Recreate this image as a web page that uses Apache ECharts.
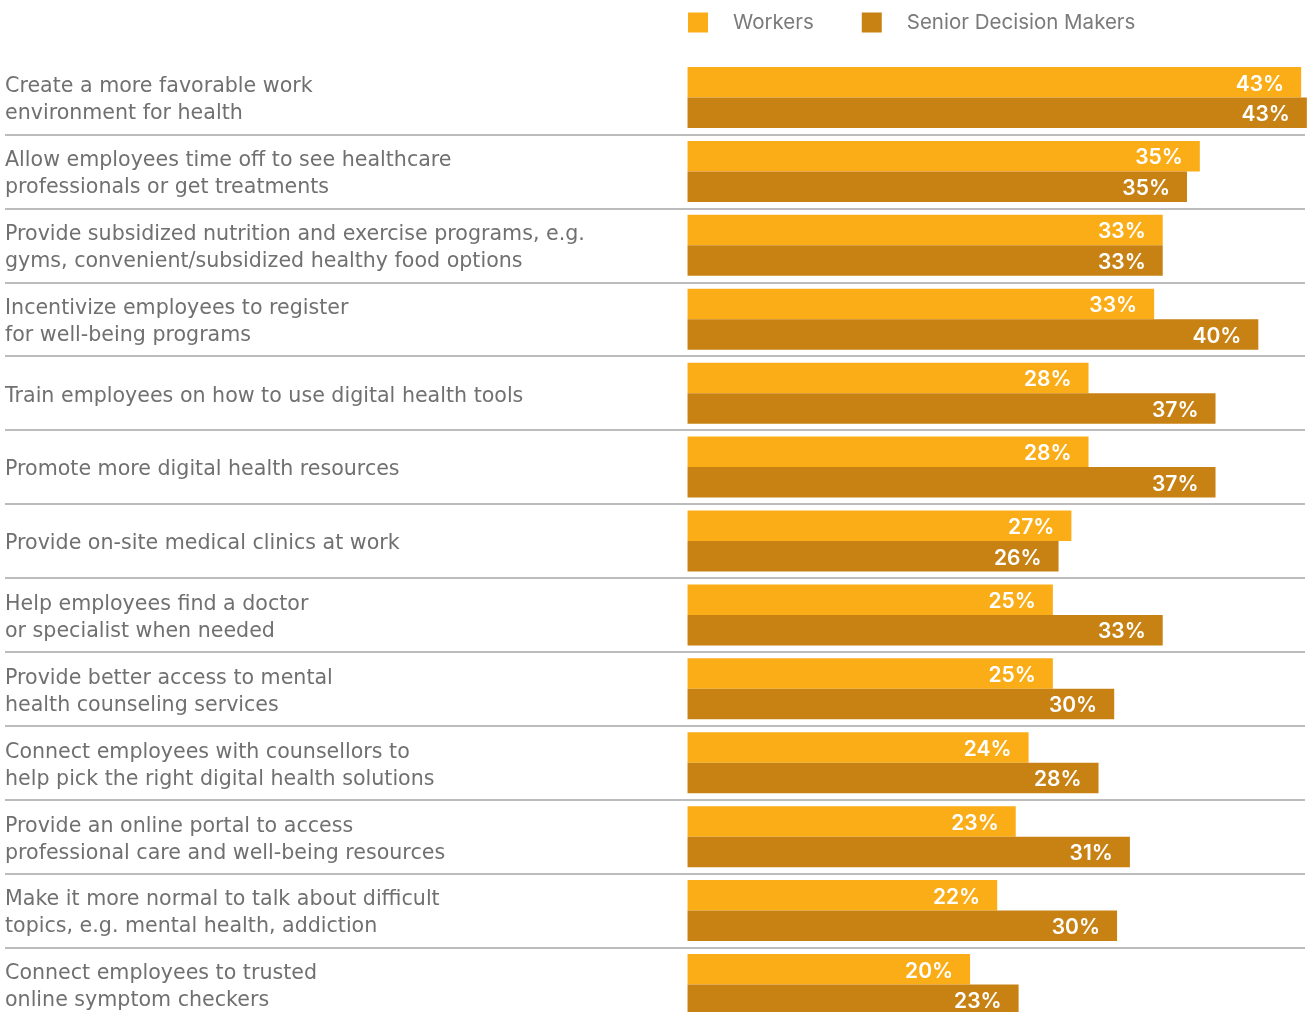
<!DOCTYPE html>
<html>
<head>
<meta charset="utf-8">
<script src="https://cdn.jsdelivr.net/npm/echarts@6/dist/echarts.min.js"></script>
<style>
  html, body { margin: 0; padding: 0; background: #ffffff; }
  #chart { width: 1311px; height: 1012px; }
</style>
</head>
<body>
<div id="chart"></div>
<script>
const categories = [
  "Create a more favorable work\nenvironment for health",
  "Allow employees time off to see healthcare\nprofessionals or get treatments",
  "Provide subsidized nutrition and exercise programs, e.g.\ngyms, convenient/subsidized healthy food options",
  "Incentivize employees to register\nfor well-being programs",
  "Train employees on how to use digital health tools",
  "Promote more digital health resources",
  "Provide on-site medical clinics at work",
  "Help employees find a doctor\nor specialist when needed",
  "Provide better access to mental\nhealth counseling services",
  "Connect employees with counsellors to\nhelp pick the right digital health solutions",
  "Provide an online portal to access\nprofessional care and well-being resources",
  "Make it more normal to talk about difficult\ntopics, e.g. mental health, addiction",
  "Connect employees to trusted\nonline symptom checkers"
];
const seriesNames = ["Workers", "Senior Decision Makers"];
// bar lengths (percent)
const workers = [43.0, 35.9, 33.3, 32.7, 28.1, 28.1, 26.9, 25.6, 25.6, 23.9, 23.0, 21.7, 19.8];
const seniorDecisionMakers = [43.4, 35.0, 33.3, 40.0, 37.0, 37.0, 26.0, 33.3, 29.9, 28.8, 31.0, 30.1, 23.2];
// printed value labels (percent)
const workersLabels = [43, 35, 33, 33, 28, 28, 27, 25, 25, 24, 23, 22, 20];
const seniorDecisionMakersLabels = [43, 35, 33, 40, 37, 37, 26, 33, 30, 28, 31, 30, 23];

const CAT_FONT = "DejaVu Sans";
const FONT = "Inter";
const chart = echarts.init(document.getElementById('chart'), null, { renderer: 'canvas' });

const splitColors = ['rgba(0,0,0,0)'];
for (let i = 0; i < categories.length; i++) splitColors.push('#a6a6a6');

function labelCfg(labels) {
  return {
    show: true,
    position: 'insideRight',
    distance: 17,
    offset: [0, 2],
    color: '#ffffff',
    fontFamily: FONT,
    fontWeight: 600,
    fontSize: 21,
    formatter: p => labels[p.dataIndex] + '%'
  };
}

chart.setOption({
  animation: false,
  backgroundColor: '#ffffff',
  legend: {
    top: 7,
    left: 683,
    itemWidth: 20,
    itemHeight: 20,
    itemGap: 48,
    icon: 'rect',
    textStyle: { color: '#7a7a7a', fontFamily: FONT, fontSize: 20.5, padding: [0, 0, 0, 20] },
    data: seriesNames
  },
  grid: [
    { left: 5, right: 6, top: 60.5, height: 961, containLabel: false, outerBoundsMode: 'none' },
    { left: 5, right: 6, top: 63.5, height: 961, containLabel: false, outerBoundsMode: 'none' }
  ],
  xAxis: [
    { gridIndex: 0, type: 'value', min: -47.83, max: 43.27, show: false },
    { gridIndex: 1, type: 'value', min: 0, max: 1, show: false }
  ],
  yAxis: [
    {
      gridIndex: 0,
      type: 'category',
      inverse: true,
      data: categories,
      axisLine: { show: false, onZero: false },
      axisTick: { show: false },
      axisLabel: { show: false },
      splitLine: { show: true, lineStyle: { color: splitColors, width: 1.5 } }
    },
    {
      gridIndex: 1,
      type: 'category',
      inverse: true,
      data: categories,
      axisLine: { show: false, onZero: false },
      axisTick: { show: false },
      splitLine: { show: false },
      axisLabel: {
        inside: true,
        margin: 0,
        align: 'left',
        color: '#707070',
        fontFamily: CAT_FONT,
        fontSize: 20.6,
        lineHeight: 27
      }
    }
  ],
  series: [
    {
      name: seriesNames[0],
      type: 'bar',
      xAxisIndex: 0,
      yAxisIndex: 0,
      data: workers,
      clip: false,
      barGap: '0%',
      barCategoryGap: '17.5%',
      itemStyle: { color: '#FBAD18' },
      label: labelCfg(workersLabels)
    },
    {
      name: seriesNames[1],
      type: 'bar',
      xAxisIndex: 0,
      yAxisIndex: 0,
      data: seniorDecisionMakers,
      clip: false,
      barGap: '0%',
      barCategoryGap: '17.5%',
      itemStyle: { color: '#C88213' },
      label: labelCfg(seniorDecisionMakersLabels)
    }
  ]
});
</script>
</body>
</html>
